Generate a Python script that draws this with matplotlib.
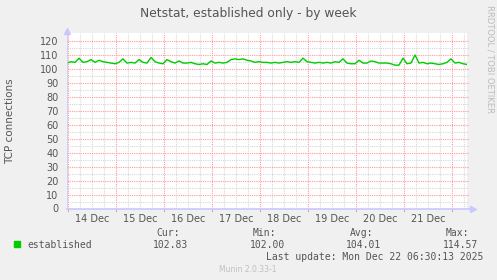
"""Munin style weekly netstat chart (established connections)."""

import numpy as np
import matplotlib
matplotlib.use("Agg")
import matplotlib.pyplot as plt
from matplotlib.ticker import FixedLocator

# --- data (2 hour samples) ---
start_day = 13 + 23.33 / 24  # 13 Dec 23:20
step_hours = 2
established = [
    104.0, 105.0, 104.5, 107.5, 104.5, 105.0, 106.5, 104.5, 106.0, 105.0,
    104.5, 104.0, 103.5, 104.5, 107.0, 104.0, 104.5, 104.0, 106.5, 104.5,
    104.0, 108.0, 105.0, 104.0, 103.5, 106.5, 105.0, 104.0, 105.5, 104.0,
    104.0, 104.5, 103.5, 103.0, 103.5, 103.0, 105.5, 104.0, 104.5, 104.0,
    104.5, 106.5, 107.0, 106.5, 107.0, 106.0, 105.5, 104.5, 105.0, 104.5,
    104.5, 104.0, 104.5, 104.0, 104.5, 105.0, 104.5, 105.0, 104.5, 107.5,
    105.0, 104.5, 104.0, 104.5, 104.0, 104.5, 104.0, 105.0, 104.5, 107.0,
    104.0, 103.5, 103.5, 106.0, 104.0, 104.0, 105.5, 105.0, 104.0, 104.0,
    104.0, 103.5, 102.5, 102.5, 107.5, 103.5, 104.0, 109.8, 104.0, 104.5,
    103.5, 104.0, 103.5, 103.0, 103.5, 104.5, 107.0, 104.0, 104.5, 103.5,
    103.0,
]
day_labels = ["14 Dec", "15 Dec", "16 Dec", "17 Dec", "18 Dec", "19 Dec", "20 Dec", "21 Dec"]
label_days = [14, 15, 16, 17, 18, 19, 20, 21]
y_ticks = [0, 10, 20, 30, 40, 50, 60, 70, 80, 90, 100, 110, 120]

legend_name = "established"
stat_names = ["Cur:", "Min:", "Avg:", "Max:"]
stat_values = ["102.83", "102.00", "104.01", "114.57"]
last_update = "Last update: Mon Dec 22 06:30:13 2025"
title = "Netstat, established only - by week"

BG = "#F0F0F0"
TEXT = "#555555"
GREEN = "#00CC00"
MAJOR = "#FF9999"
MINOR = "#D8D8D8"
AXIS = "#C8C8FF"

W, H = 497, 280
fig = plt.figure(figsize=(W / 100, H / 100), dpi=100, facecolor=BG)
ax = fig.add_axes([67 / W, (H - 208.5) / H, 400 / W, 175.5 / H])
ax.set_facecolor("white")

x = start_day + np.arange(len(established)) * step_hours / 24
x_end = start_day + 200 / 24
ax.set_xlim(start_day, x_end)
ax.set_ylim(0, 125.5)

# grid: minor every 6h / 5 units, major every day / 10 units
for d in np.arange(14, 22.5, 0.25):
    if start_day < d < x_end:
        major = abs(d - round(d)) < 1e-6
        ax.axvline(d, color=MAJOR if major else MINOR, lw=0.8,
                   ls=(0, (1, 1)), zorder=1)
        if major:
            ax.plot([d, d], [0, -2], color=MAJOR, lw=0.8, clip_on=False)
for v in range(5, 125, 5):
    ax.plot([start_day, x_end + 0.04], [v, v],
            color=MAJOR if v % 10 == 0 else MINOR, lw=0.8,
            ls=(0, (1, 1)), zorder=1, clip_on=False)

ax.plot(x, established, color=GREEN, lw=1.0, zorder=3)

for s in ax.spines.values():
    s.set_visible(False)
ax.plot([start_day, x_end + 0.06], [0, 0], color=AXIS, lw=1.2, zorder=4,
        clip_on=False)
ax.axvline(start_day, color=AXIS, lw=1.2, zorder=4)
ax.plot([1.015], [0], marker=">", color=AXIS, ms=5, transform=ax.transAxes,
        clip_on=False, zorder=4)
ax.plot([0], [1.01], marker="^", color=AXIS, ms=5, transform=ax.transAxes,
        clip_on=False, zorder=4)

ax.yaxis.set_major_locator(FixedLocator(y_ticks))
ax.set_yticklabels([str(t) for t in y_ticks])
ax.xaxis.set_major_locator(FixedLocator([d + 0.5 for d in label_days]))
ax.set_xticklabels(day_labels)
ax.tick_params(axis="both", length=0, colors=TEXT, labelsize=7)
ax.tick_params(axis="y", pad=6)
ax.tick_params(axis="x", pad=4)

fig.text(10 / W, (H - 121) / H, "TCP connections", fontsize=7.5, color=TEXT,
         rotation=90, ha="center", va="center")
fig.text(248 / W, (H - 13) / H, title, fontsize=8.8, color=TEXT, ha="center",
         va="center")
fig.text(490 / W, (H - 5) / H, "RRDTOOL / TOBI OETIKER", fontsize=6,
         color="#BBBBBB", rotation=-90, ha="center", va="top")

mono = "DejaVu Sans Mono"
fig.patches.append(plt.Rectangle((14 / W, (H - 247) / H), 6 / W, 6 / H,
                                 color=GREEN, transform=fig.transFigure))
fig.text(27 / W, (H - 244.5) / H, legend_name, family=mono, fontsize=7,
         color=TEXT, va="center")
name_right = [180, 276, 373, 469]
val_right = [188, 285, 381, 478]
for n, v, xr, xv in zip(stat_names, stat_values, name_right, val_right):
    fig.text(xr / W, (H - 233) / H, n, family=mono, fontsize=7, color=TEXT,
             ha="right", va="center")
    fig.text(xv / W, (H - 245) / H, v, family=mono, fontsize=7, color=TEXT,
             ha="right", va="center")
fig.text(483 / W, (H - 257.5) / H, last_update, family=mono, fontsize=7,
         color=TEXT, ha="right", va="center")
fig.text(248 / W, (H - 269) / H, "Munin 2.0.33-1", fontsize=5.5,
         color="#C0C0C0", ha="center", va="center")

fig.savefig("out.png", dpi=100, facecolor=BG)
